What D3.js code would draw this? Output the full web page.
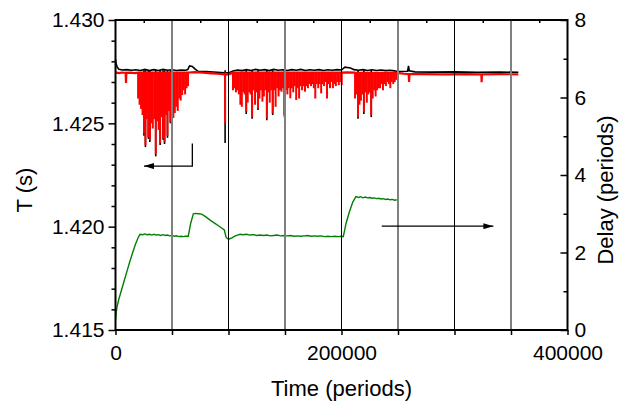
<!DOCTYPE html>
<html>
<head>
<meta charset="utf-8">
<script src="https://cdn.jsdelivr.net/npm/d3@7"></script>
<style>
  body { margin: 0; background: #fff; }
  svg text { font-family: "Liberation Sans", Arial, sans-serif; fill: #000; }
</style>
</head>
<body>
<svg id="chart" width="629" height="403"></svg>
<script>
// ---- data (time in periods) ----

// upper edge of the red trace (T in s)
const redLine = [[0,1.42749],[1000,1.42745],[3000,1.42743],[6000,1.42746],[9000,1.42744],[9300,1.42695],[9600,1.42744],
  [13000,1.42745],[17000,1.42743],[20000,1.42745],[65000,1.42746],[70000,1.42748],[75000,1.42746],[80000,1.42744],
  [85000,1.42742],[90000,1.42740],[95000,1.42738],[97000,1.42736],[100000,1.42737],[104000,1.42745],[200000,1.42745],
  [205000,1.42747],[212000,1.42745],[249000,1.42744],[255000,1.42740],[259500,1.42738],[259800,1.42700],[260100,1.42738],
  [270000,1.42738],[290000,1.42737],[310000,1.42738],[323800,1.42737],[324000,1.42699],[324300,1.42737],[340000,1.42738],
  [356500,1.42737]];

// downward excursions of the red trace [time, lowest T]
const redDips = [
  // first burst
  [20000,1.4262],[21300,1.4259],[22600,1.4257],[23900,1.4254],[25200,1.42453],[26500,1.42395],[27800,1.4252],
  [29100,1.42434],[30400,1.42419],[31700,1.4250],[33000,1.42475],[34300,1.4252],[35600,1.4235],[36900,1.4251],
  [38200,1.42468],[39500,1.42405],[40800,1.4253],[42100,1.42429],[43400,1.4241],[44700,1.4254],[46000,1.4244],
  [47300,1.4256],[48600,1.42506],[49900,1.4258],[51200,1.42526],[52500,1.4255],[53800,1.4258],[55100,1.4256],
  [56400,1.4262],[57700,1.4261],[59000,1.42637],[60300,1.4266],[61600,1.4264],[62900,1.4267],[64200,1.4268],
  // single spike
  [97000,1.4250],
  // second burst
  [104000,1.4266],[105300,1.4267],[106600,1.4265],[107900,1.4266],[109200,1.4264],[110500,1.4259],[111800,1.4258],
  [113100,1.4265],[114400,1.4264],[115700,1.42556],[117000,1.4260],[118300,1.4265],[119600,1.4264],[120900,1.42532],
  [122200,1.4266],[123500,1.4259],[124800,1.4265],[126100,1.42573],[127400,1.4262],[128700,1.4266],[130000,1.42605],
  [131300,1.4263],[132600,1.4266],[133900,1.42524],[135200,1.4265],[136500,1.4260],[137800,1.4266],[139100,1.42548],
  [140400,1.4266],[141700,1.4258],[143000,1.4267],[144300,1.4263],[145600,1.4266],[146900,1.42653],[148200,1.4267],
  [149500,1.4254],[150800,1.4266],[152100,1.4264],[153400,1.4267],[154700,1.42621],[156000,1.4267],[157300,1.4265],
  [158600,1.4268],[159900,1.42613],[161200,1.4267],[162500,1.4262],[163800,1.4268],[165100,1.4266],[166400,1.4268],
  [167700,1.42653],[169000,1.4268],[170300,1.4267],[171600,1.4269],[173000,1.4268],[174200,1.4269],[175500,1.4267],
  [176800,1.4262],[178100,1.4269],[179400,1.4267],[180700,1.4269],[182000,1.42645],[183300,1.4269],[184600,1.4268],
  [185900,1.4270],[187200,1.4262],[188500,1.4269],[189800,1.4267],[191100,1.4270],[192400,1.4267],[193700,1.4269],
  [195000,1.4268],[196300,1.4270],[197600,1.42685],[198900,1.4270],[200200,1.42685],
  // third burst
  [212000,1.4262],[213300,1.4264],[214600,1.42532],[215900,1.4259],[217200,1.4261],[218500,1.4264],[219800,1.42556],
  [221100,1.4265],[222400,1.4260],[223700,1.4264],[225000,1.4265],[226300,1.4254],[227600,1.4262],[228900,1.4266],
  [230200,1.4263],[231500,1.4266],[232800,1.4267],[234100,1.4267],[235400,1.4269],[236700,1.4266],[238000,1.4269],
  [239300,1.4268],[240600,1.4270],[241900,1.4269],[243200,1.4267],[244500,1.4270],[245800,1.4269],[247100,1.4270],
  [248400,1.4271]];

// upper edge of the black trace
const blackLine = [[0,1.42810],[500,1.42790],[1500,1.42772],[3000,1.42762],[6000,1.42758],[10000,1.42760],
  [14000,1.42757],[18000,1.42759],[22000,1.42756],[26000,1.42761],[30000,1.42755],[34000,1.42760],[38000,1.42756],
  [42000,1.42761],[46000,1.42757],[50000,1.42759],[54000,1.42756],[58000,1.42758],[62000,1.42757],[64000,1.42760],
  [65500,1.42778],[68000,1.42775],[70000,1.42765],[73000,1.42752],[80000,1.42750],[90000,1.42747],[96500,1.42745],
  [100000,1.42744],[104000,1.42753],[108000,1.42758],[112000,1.42755],[116000,1.42760],[120000,1.42756],
  [124000,1.42761],[128000,1.42757],[132000,1.42760],[136000,1.42755],[140000,1.42761],[144000,1.42757],
  [148000,1.42759],[152000,1.42756],[156000,1.42760],[160000,1.42757],[164000,1.42761],[168000,1.42756],
  [172000,1.42759],[176000,1.42757],[180000,1.42760],[184000,1.42756],[188000,1.42759],[192000,1.42757],
  [196000,1.42760],[200000,1.42758],[203000,1.42772],[208000,1.42768],[211000,1.42760],[215000,1.42757],
  [219000,1.42760],[223000,1.42756],[227000,1.42759],[231000,1.42756],[235000,1.42758],[239000,1.42755],
  [243000,1.42757],[247000,1.42754],[250000,1.42750],[258500,1.42752],[259300,1.42778],[260000,1.42754],
  [265000,1.42749],[280000,1.42748],[300000,1.42749],[320000,1.42747],[340000,1.42748],[356500,1.42747]];

// deeper tips of the black trace under the red spikes
const blackDips = [[25200,1.4244],[26500,1.42385],[29100,1.42425],[30400,1.4241],[35600,1.4234],[39500,1.42395],
  [42100,1.4242],[43400,1.4240],[46000,1.4243],[48600,1.4250],[97000,1.42405],[115700,1.42545],[120900,1.42522],
  [126100,1.42565],[133900,1.42515],[139100,1.4254],[149500,1.4253],[214600,1.42522],[219800,1.42545],[226300,1.4253]];

// delay (periods), right axis
const delayData = [[0,0.25],[600,0.45],[1500,0.62],[3000,0.8],[5000,1.0],[7500,1.25],[10000,1.5],[12500,1.75],
  [15000,1.98],[17500,2.2],[20000,2.38],[21700,2.47],[24000,2.46],[26000,2.48],[28000,2.46],[30000,2.47],
  [32000,2.45],[34000,2.47],[36000,2.45],[38000,2.46],[40000,2.44],[42000,2.46],[44000,2.44],[46000,2.45],
  [48000,2.43],[50000,2.44],[52000,2.42],[54000,2.43],[56000,2.41],[58000,2.42],[60000,2.41],[62000,2.42],
  [64400,2.42],[66500,2.75],[68900,3.0],[71000,3.01],[73500,3.0],[76300,2.99],[80000,2.92],[84000,2.83],
  [88000,2.75],[92000,2.67],[96300,2.58],[97800,2.4],[99000,2.36],[100700,2.35],[103000,2.38],[106000,2.43],
  [108000,2.45],[110200,2.47],[113000,2.46],[116000,2.47],[119000,2.45],[122000,2.46],[125000,2.44],
  [128000,2.45],[131000,2.44],[134000,2.45],[137000,2.43],[140000,2.44],[143000,2.45],[146000,2.43],
  [149000,2.44],[152000,2.43],[155000,2.44],[158000,2.42],[161000,2.43],[164000,2.42],[167000,2.43],
  [170000,2.44],[173000,2.42],[176000,2.43],[179000,2.42],[182000,2.43],[185000,2.41],[188000,2.42],
  [191000,2.41],[194000,2.42],[197000,2.41],[200000,2.42],[201600,2.41],[204000,2.75],[207000,3.05],
  [210000,3.3],[212800,3.44],[215000,3.42],[217000,3.44],[219000,3.41],[221000,3.43],[223000,3.41],
  [225000,3.42],[227000,3.40],[229000,3.41],[231000,3.39],[233000,3.40],[235000,3.38],[237000,3.39],
  [239000,3.37],[241000,3.38],[243000,3.36],[245000,3.37],[247000,3.35],[248900,3.36]];

const redTop = 1.42746;    // level the red spikes hang from
const blackTop = 1.42757;  // level the black spikes hang from

const tTicks = [1.415, 1.420, 1.425, 1.430];
const delayTicks = [0, 2, 4, 6, 8];
const timeLabels = [0, 200000, 400000];
const gridTimes = [50000, 100000, 150000, 200000, 250000, 300000, 350000];

// ---- layout ----
const svg = d3.select("#chart");
const mLeft = 115.5, mRight = 567.5, mTop = 20, mBottom = 330;

const x = d3.scaleLinear().domain([0, 400000]).range([mLeft, mRight]);
const yT = d3.scaleLinear().domain([1.415, 1.430]).range([mBottom, mTop]);
const yD = d3.scaleLinear().domain([0, 8]).range([mBottom, mTop]);

const lineT = d3.line().x(d => x(d[0])).y(d => yT(d[1]));

// black trace first, red drawn over it
svg.append("g").selectAll("line")
    .data(blackDips).enter().append("line")
        .attr("x1", d => x(d[0])).attr("x2", d => x(d[0]))
        .attr("y1", yT(blackTop)).attr("y2", d => yT(d[1]))
        .attr("stroke", "#000").attr("stroke-width", 1.6);

svg.append("path").datum(blackLine)
    .attr("d", lineT).attr("fill", "none")
    .attr("stroke", "#000").attr("stroke-width", 1.6);

svg.append("g").selectAll("line")
    .data(redDips).enter().append("line")
        .attr("x1", d => x(d[0])).attr("x2", d => x(d[0]))
        .attr("y1", yT(redTop)).attr("y2", d => yT(d[1]))
        .attr("stroke", "#ff0000").attr("stroke-width", 2);

svg.append("path").datum(redLine)
    .attr("d", lineT).attr("fill", "none")
    .attr("stroke", "#ff0000").attr("stroke-width", 2.2);

svg.append("path").datum(delayData)
    .attr("d", d3.line().x(d => x(d[0])).y(d => yD(d[1])))
    .attr("fill", "none").attr("stroke", "#008000").attr("stroke-width", 1.4);

// vertical grid lines, gray and black alternating
svg.append("g").selectAll("line")
    .data(gridTimes).enter().append("line")
        .attr("x1", d => x(d)).attr("x2", d => x(d))
        .attr("y1", mTop).attr("y2", mBottom)
        .attr("stroke", (d, i) => i % 2 ? "#000" : "#808080")
        .attr("stroke-width", (d, i) => i % 2 ? 1 : 2);

// ---- axes ----
const tickFont = "21px", titleFont = "22px";
const isMajorT = d => tTicks.some(t => Math.abs(t - d) < 1e-9);

let axL = svg.append("g").attr("transform", `translate(${mLeft},0)`)
    .call(d3.axisLeft(yT).tickValues(d3.range(1415, 1431).map(v => v / 1000))
        .tickSize(4).tickPadding(7).tickFormat(d => isMajorT(d) ? d3.format(".3f")(d) : ""));
axL.selectAll(".tick line").filter(isMajorT).attr("x2", -7);

let axR = svg.append("g").attr("transform", `translate(${mRight},0)`)
    .call(d3.axisRight(yD).tickValues(d3.range(0, 9)).tickSize(-4).tickPadding(7)
        .tickFormat(d => delayTicks.includes(d) ? d : ""));
axR.selectAll(".tick line").filter(d => delayTicks.includes(d)).attr("x2", -7);

svg.append("g").attr("transform", `translate(0,${mBottom})`)
    .call(d3.axisBottom(x).tickValues(d3.range(0, 400001, 50000)).tickSize(5).tickPadding(10.5)
        .tickFormat(d => timeLabels.includes(d) ? d : ""));

svg.append("g").attr("transform", `translate(0,${mTop})`)
    .call(d3.axisTop(x).tickValues(d3.range(25000, 400000, 50000)).tickSize(-3).tickFormat(""));

svg.selectAll(".domain").remove();
svg.selectAll(".tick line").attr("stroke", "#000").attr("stroke-width", 1.5);
svg.selectAll(".tick text").style("font-size", tickFont).attr("fill", "#000");

svg.append("rect")
    .attr("x", mLeft).attr("y", mTop).attr("width", mRight - mLeft).attr("height", mBottom - mTop)
    .attr("fill", "none").attr("stroke", "#000").attr("stroke-width", 2);

// axis titles
svg.append("text").attr("transform", `translate(32,${(mTop + mBottom) / 2 + 15}) rotate(-90)`)
    .attr("text-anchor", "middle").style("font-size", titleFont).text("T (s)");
svg.append("text").attr("transform", `translate(613,${(mTop + mBottom) / 2 + 15}) rotate(-90)`)
    .attr("text-anchor", "middle").style("font-size", titleFont).text("Delay (periods)");
svg.append("text").attr("x", (mLeft + mRight) / 2).attr("y", 396)
    .attr("text-anchor", "middle").style("font-size", titleFont).text("Time (periods)");

// ---- arrows pointing to each curve's axis ----
svg.append("defs").append("marker")
    .attr("id", "head").attr("viewBox", "0 0 10 6").attr("refX", 10).attr("refY", 3)
    .attr("markerWidth", 15).attr("markerHeight", 6).attr("markerUnits", "userSpaceOnUse")
    .attr("orient", "auto")
    .append("path").attr("d", "M0,0L10,3L0,6Z").attr("fill", "#000");

svg.append("path")
    .attr("d", d3.line()([[x(68000), yT(1.42403)], [x(68000), yT(1.42293)], [x(25200), yT(1.42293)]]))
    .attr("fill", "none").attr("stroke", "#000").attr("stroke-width", 1.3)
    .attr("marker-end", "url(#head)");

svg.append("path")
    .attr("d", d3.line()([[x(235600), yD(2.68)], [x(334400), yD(2.68)]]))
    .attr("fill", "none").attr("stroke", "#000").attr("stroke-width", 1.3)
    .attr("marker-end", "url(#head)");
</script>
</body>
</html>
